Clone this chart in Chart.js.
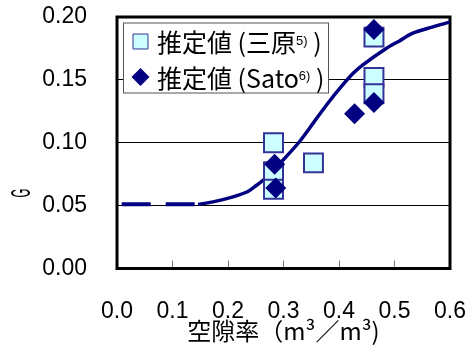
<!DOCTYPE html>
<html>
<head>
<meta charset="utf-8">
<script src="https://cdn.jsdelivr.net/npm/chart.js@4.4.1/dist/chart.umd.min.js"></script>
<style>
  html, body { margin: 0; padding: 0; background: #fff; }
</style>
</head>
<body>
<canvas id="chart" width="468" height="345"></canvas>
<script>
// #### Data
const xTicks = [0, 0.1, 0.2, 0.3, 0.4, 0.5, 0.6];
const yTicks = [0, 0.05, 0.10, 0.15, 0.20];

// 推定値（三原）
const miharaX = [0.282, 0.282, 0.282, 0.354, 0.463, 0.463, 0.463];
const miharaY = [0.100, 0.077, 0.063, 0.084, 0.184, 0.152, 0.139];

// 推定値（Sato）
const satoX = [0.284, 0.286, 0.428, 0.463, 0.463];
const satoY = [0.083, 0.064, 0.123, 0.132, 0.190];

// model curve
const curveX = [0.146, 0.173, 0.209, 0.235, 0.251, 0.268, 0.281, 0.305, 0.329, 0.359, 0.381, 0.401, 0.425, 0.443, 0.485, 0.509, 0.532, 0.568, 0.600];
const curveY = [0.051, 0.053, 0.057, 0.061, 0.066, 0.072, 0.078, 0.089, 0.101, 0.119, 0.132, 0.143, 0.155, 0.162, 0.175, 0.181, 0.187, 0.192, 0.196];

// dashed low-porosity part
const dashX = [0.0, 0.14];
const dashY = [0.051, 0.051];

const legendLabels = [
    ['推定値 (三原', '5)', ' )'],
    ['推定値 (Sato', '6)', ' )']
];

const toPoints = (xs, ys) => xs.map((x, i) => ({ x: x, y: ys[i] }));

const NAVY = '#000080';
const CJK = '"Noto Sans CJK JP", "Noto Sans", sans-serif';
const NUM = '"Liberation Sans", Arial, sans-serif';

// #### Plugins
const frame = {
    id: 'frame',
    beforeDatasetsDraw(chart) {
        const { ctx, chartArea: a } = chart;
        ctx.save();
        ctx.strokeStyle = '#000';
        ctx.lineWidth = 3;
        ctx.strokeRect(a.left, a.top, a.right - a.left, a.bottom - a.top);
        ctx.restore();
    }
};

const yTitle = {
    id: 'yTitle',
    afterDraw(chart) {
        const { ctx } = chart;
        ctx.save();
        ctx.translate(23, 193);
        ctx.rotate(-Math.PI / 2);
        ctx.scale(0.42, 1);
        ctx.font = '27px ' + NUM;
        ctx.fillStyle = '#000';
        ctx.textAlign = 'center';
        ctx.textBaseline = 'middle';
        ctx.fillText('G', 0, 0);
        ctx.restore();
    }
};

const legendBox = {
    id: 'legendBox',
    afterDatasetsDraw(chart) {
        const { ctx } = chart;
        const x0 = 123, y0 = 22.5, w = 205, h = 70;
        ctx.save();
        ctx.fillStyle = '#fff';
        ctx.fillRect(x0, y0, w, h);
        ctx.strokeStyle = '#555';
        ctx.lineWidth = 1;
        ctx.strokeRect(x0 + 0.5, y0 + 0.5, w, h);

        legendLabels.forEach((parts, i) => {
            // dataset 1 = 三原 (squares), dataset 0 = Sato (diamonds)
            const ds = chart.data.datasets[i === 0 ? 1 : 0];
            const cy = 41.5 + i * 35.5;
            ctx.fillStyle = ds.pointBackgroundColor;
            ctx.strokeStyle = ds.pointBorderColor;
            Chart.helpers.drawPoint(ctx, {
                pointStyle: ds.pointStyle,
                radius: i === 0 ? 10.6 : 9,
                rotation: 0,
                borderWidth: ds.pointBorderWidth
            }, 140.5, cy);

            ctx.fillStyle = '#000';
            ctx.textBaseline = 'middle';
            ctx.textAlign = 'left';
            let x = 157;
            ctx.font = '25px ' + CJK;
            ctx.fillText(parts[0], x, cy + 1);
            x += ctx.measureText(parts[0]).width;
            ctx.font = '13px ' + NUM;
            ctx.textBaseline = 'alphabetic';
            ctx.fillText(parts[1], x, cy + 3);
            x += ctx.measureText(parts[1]).width;
            ctx.font = '25px ' + CJK;
            ctx.textBaseline = 'middle';
            ctx.fillText(parts[2], x, cy + 1);
        });
        ctx.restore();
    }
};

const noPad = s => {
    s.paddingTop = 0; s.paddingBottom = 0;
    s.paddingLeft = 0; s.paddingRight = 0;
};

// #### Chart
new Chart(document.getElementById('chart'), {
    type: 'scatter',
    data: {
        datasets: [{
            label: '推定値 (Sato)',
            data: toPoints(satoX, satoY),
            pointStyle: 'rectRot',
            pointRadius: 10.5,
            pointBackgroundColor: NAVY,
            pointBorderColor: NAVY,
            pointBorderWidth: 0
        }, {
            label: '推定値 (三原)',
            data: toPoints(miharaX, miharaY),
            pointStyle: 'rect',
            pointRadius: 13.4,
            pointBackgroundColor: '#CCFFFF',
            pointBorderColor: '#333399',
            pointBorderWidth: 2
        }, {
            label: 'curve',
            data: toPoints(curveX, curveY),
            showLine: true,
            pointRadius: 0,
            borderColor: NAVY,
            borderWidth: 3.5,
            tension: 0.3
        }, {
            label: 'dash',
            data: toPoints(dashX, dashY),
            showLine: true,
            pointRadius: 0,
            borderColor: NAVY,
            borderWidth: 4,
            borderCapStyle: 'butt',
            borderDash: [29, 15],
            borderDashOffset: 39.3
        }]
    },
    options: {
        responsive: false,
        animation: false,
        devicePixelRatio: 1,
        layout: { padding: { left: 0, top: 17, right: 18, bottom: 0 } },
        scales: {
            x: {
                min: 0,
                max: 0.6,
                afterBuildTicks: s => { s.ticks = xTicks.map(v => ({ value: v })); },
                afterFit: s => { s.height = 76.5; noPad(s); },
                ticks: {
                    padding: 37,
                    color: '#000',
                    font: { family: NUM, size: 23 },
                    callback: v => v.toFixed(1)
                },
                grid: {
                    drawOnChartArea: false,
                    tickLength: -8,
                    color: '#777',
                    lineWidth: 1
                },
                border: { display: false },
                title: {
                    display: true,
                    text: '空隙率（m³／m³)',
                    color: '#000',
                    font: { family: CJK, size: 24 },
                    padding: { top: 0, bottom: 0 }
                }
            },
            y: {
                min: 0,
                max: 0.2,
                afterBuildTicks: s => { s.ticks = yTicks.map(v => ({ value: v })); },
                afterFit: s => { s.width = 117; noPad(s); },
                ticks: {
                    padding: 30,
                    color: '#000',
                    font: { family: NUM, size: 23 },
                    callback: v => v.toFixed(2)
                },
                grid: {
                    drawTicks: false,
                    color: '#000',
                    lineWidth: 1
                },
                border: { display: false }
            }
        },
        plugins: {
            legend: { display: false },
            tooltip: { enabled: false }
        }
    },
    plugins: [frame, legendBox, yTitle]
});
</script>
</body>
</html>
